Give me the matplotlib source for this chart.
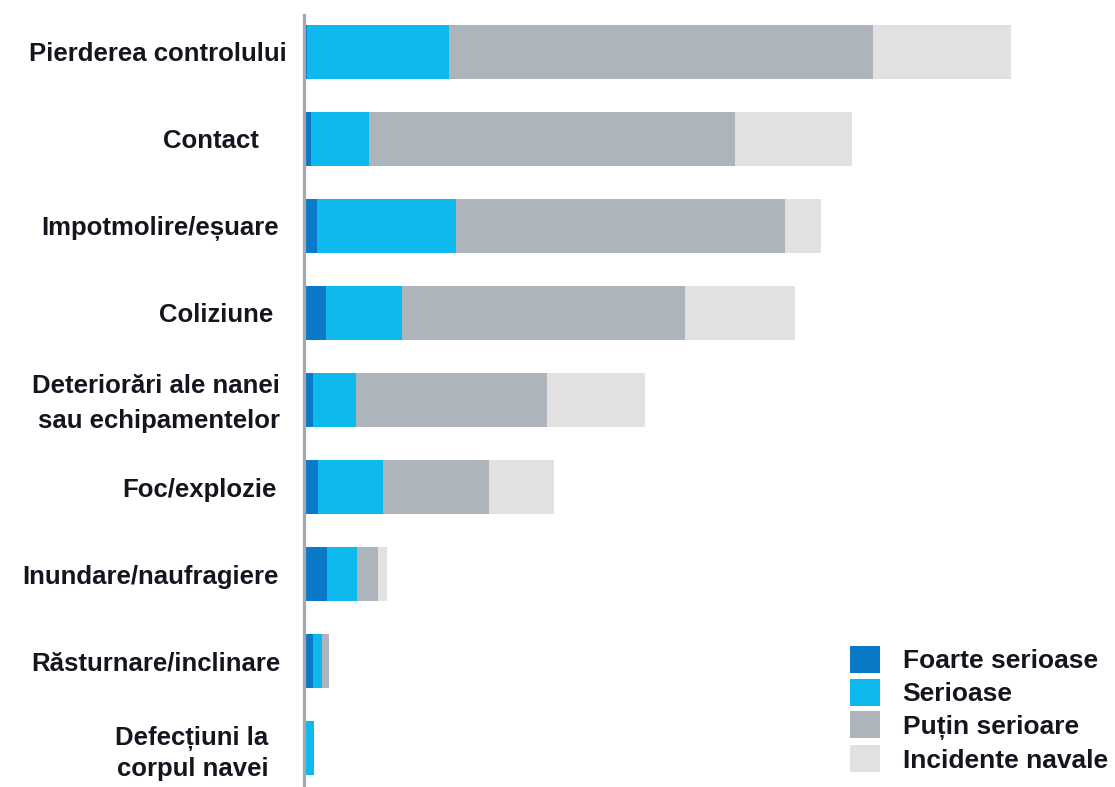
import matplotlib
matplotlib.use("Agg")
import matplotlib.pyplot as plt
import matplotlib.transforms as mtransforms
import numpy as np

plt.rcParams['font.family'] = ['Liberation Sans', 'DejaVu Sans']
plt.rcParams['font.weight'] = 'bold'

# categorii de evenimente (de sus in jos)
categories = [
    "Pierderea controlului",
    "Contact",
    "Impotmolire/eșuare",
    "Coliziune",
    "Deteriorări ale nanei\nsau echipamentelor",
    "Foc/explozie",
    "Inundare/naufragiere",
    "Răsturnare/inclinare",
    "Defecțiuni la\ncorpul navei",
]

series_names = ["Foarte serioase", "Serioase", "Puțin serioare", "Incidente navale"]

foarte_serioase = [3, 7, 13, 22, 9, 14, 23, 9, 0]
serioase = [142, 58, 139, 76, 43, 65, 30, 9, 10]
putin_serioase = [424, 366, 329, 283, 191, 106, 21, 7, 0]
incidente = [138, 117, 36, 110, 98, 65, 9, 0, 0]

colors = ["#0a7ac8", "#0db9ed", "#adb4bb", "#e1e1e1"]
text_color = "#151520"

# distanta (px) dintre axa si marginea dreapta a fiecarei etichete
label_gap = [17, 45, 25, 30, 24, 27, 25, 23, 35]
# spatiere intre randuri si deplasare verticala (px) pt. etichetele pe doua linii
line_sp = {4: (1.6, 5), 8: (1.3, 0)}

fig = plt.figure(figsize=(11.15, 7.87), dpi=100)
ax = fig.add_axes([303.5 / 1115, 2 / 787, 811.5 / 1115, 770 / 787])

y = np.arange(len(categories))
left = np.zeros(len(categories))
handles = []
for vals, name, col in zip([foarte_serioase, serioase, putin_serioase, incidente],
                           series_names, colors):
    b = ax.barh(y, vals, left=left, height=0.62, color=col, label=name,
                edgecolor='none')
    handles.append(b)
    left += np.array(vals)

ax.set_xlim(0, 811.5)
ax.set_ylim(len(categories) - 1 + 0.425, -0.425)

for s in ['top', 'right', 'bottom']:
    ax.spines[s].set_visible(False)
ax.spines['left'].set_color('#a3a8ad')
ax.spines['left'].set_linewidth(2.3)
ax.set_xticks([])

ax.set_yticks(y)
ax.set_yticklabels(categories, fontsize=18.5, fontweight='bold',
                   color=text_color, multialignment='right')
ax.tick_params(axis='y', length=0, pad=0)
for i, (lab, gap) in enumerate(zip(ax.get_yticklabels(), label_gap)):
    dy = 0
    if i in line_sp:
        lab.set_linespacing(line_sp[i][0])
        dy = line_sp[i][1]
    off = mtransforms.ScaledTranslation(-gap / 100, dy / 100, fig.dpi_scale_trans)
    lab.set_transform(lab.get_transform() + off)

leg = fig.legend(handles=handles, loc='upper left',
                 bbox_to_anchor=(850 / 1115, 1 - 646 / 787),
                 frameon=False, fontsize=19, handlelength=1.14,
                 handleheight=1.2, handletextpad=0.85, labelspacing=0.2,
                 borderpad=0, borderaxespad=0)
for t in leg.get_texts():
    t.set_color(text_color)
    t.set_fontweight('bold')

fig.savefig("out.png", dpi=100, facecolor='white')
